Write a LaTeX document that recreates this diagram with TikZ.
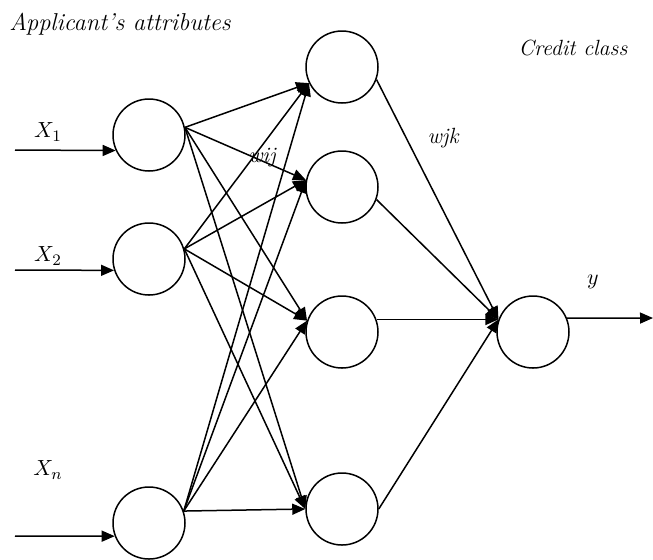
\documentclass[tikz,border=0pt]{standalone}
\usetikzlibrary{arrows.meta}
\begin{document}
\begin{tikzpicture}[x=0.5pt,y=-0.5pt,
  neuron/.style={circle,draw,line width=0.75pt,minimum size=36pt,inner sep=0pt},
  conn/.style={line width=0.75pt,-{Triangle[length=6.5pt,width=5.5pt]}},
  lbl/.style={font=\itshape\fontsize{11}{13}\selectfont,inner sep=1pt}]
\useasboundingbox (0,0) rectangle (653,559);
% input layer
\node[neuron] (in1) at (149,135) {};
\node[neuron] (in2) at (149,259) {};
\node[neuron] (inn) at (149,523) {};
% hidden layer
\node[neuron] (h1) at (342,67) {};
\node[neuron] (h2) at (342,187) {};
\node[neuron] (h3) at (342,332) {};
\node[neuron] (h4) at (342,509) {};
% output
\node[neuron] (out) at (533,332) {};
\coordinate (s1) at (15,150);
\coordinate (s2) at (15,270);
\coordinate (sn) at (15,536);
\coordinate (y) at (653,318);
\draw[conn] (s1) -- (in1.205);
\draw[conn] (s2) -- (in2.198);
\draw[conn] (sn) -- (inn.201);
\foreach \i/\a in {in1/12,in2/16,inn/19}
  \foreach \h/\b in {h1/206,h2/169,h3/162,h4/180}
    \draw[conn] (\i.\a) -- (\h.\b);
\foreach \h/\a in {h1/-20,h2/-20,h3/20,h4/0}
  \draw[conn] (\h.\a) -- (out.160);
\draw[conn] (out.22) -- (y);
% labels
\node[lbl,font=\itshape\fontsize{12.2}{14}\selectfont] (att) at (120,24) {Applicant's attributes};
\node[lbl] (cls) at (573,48) {Credit class};
\node[lbl] (x1) at (48,132) {$X_1$};
\node[lbl] (x2) at (48,256) {$X_2$};
\node[lbl] (xn) at (48,470) {$X_n$};
\node[lbl] (wij) at (262,158) {wij};
\node[lbl] (wjk) at (443,138) {wjk};
\node[lbl] (ylbl) at (593,282) {$y$};
\end{tikzpicture}
\end{document}
